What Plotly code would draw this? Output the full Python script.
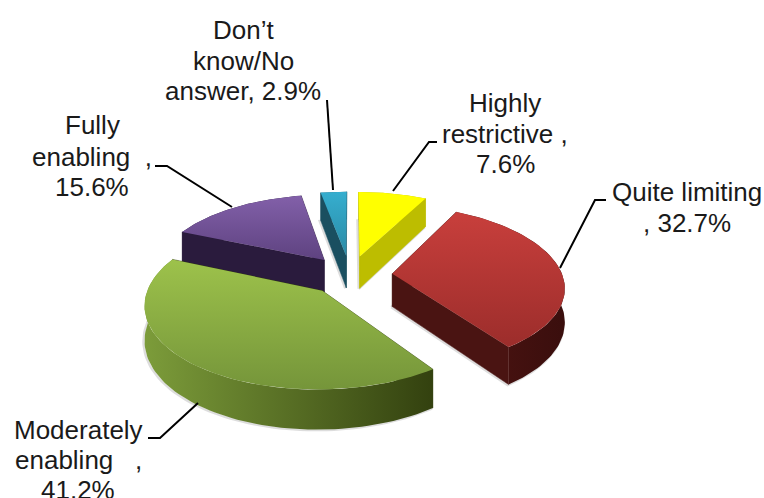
import numpy as np
import plotly.graph_objects as go

NBSP = "\u00a0"

# Survey shares, clockwise from twelve o'clock
categories = ["Highly restrictive", "Quite limiting", "Moderately enabling",
              "Fully enabling", "Don\u2019t know/No answer"]
shares = [7.6, 32.7, 41.2, 15.6, 2.9]

# Wrapped label text; {} takes the share
label_lines = [["Highly", "restrictive" + NBSP + ",", "{}%"],
               ["Quite limiting", ", {}%"],
               ["Moderately", "enabling" + NBSP * 3 + ",", "{}%"],
               ["Fully", "enabling" + NBSP * 2 + ",", "{}%"],
               ["Don\u2019t", "know/No", "answer, {}%"]]

# Face colours per slice
top_colors = [("#FFFF00", "#FFFF00"), ("#C83F3C", "#9C2D2B"), ("#9DC24B", "#75953A"),
              ("#8260A9", "#5E4280"), ("#36AECF", "#2A8AA5")]
cut_colors = ["#BDBD00", "#4A1412", "#33410F", "#2A1B3D", "#1A4F60"]
wall_colors = [("#BDBD00", "#BDBD00"), ("#4E1412", "#3A0E0D"), ("#7C9C3A", "#33410F"),
               ("#2A1B3D", "#2A1B3D"), ("#1A4F60", "#1A4F60")]

# Label placement: centre x and the centre y of each line
label_x = [505, 687, 78, 92, 243]
label_y = [[103, 134, 164], [192, 223], [430, 460, 490], [125, 157, 187], [30, 61, 91]]
leaders = [[(393, 191), (429, 142), (437, 142)],
           [(560, 268), (595, 200), (606, 200)],
           [(198, 403), (160, 438), (148, 438)],
           [(232, 207), (167, 166), (155, 166)],
           [(333, 190), (327, 100)]]

# Perspective view of the tilted disc
CX, CY = 350, 275
SX, SY, PERSP, DEPTH, EXPLODE = 170, 79, 0.148, 33, 0.25
# Slices are painted back to front
PAINT_ORDER = [4, 0, 3, 1, 2]


def project(wx, wy, lower):
    w = 1 + PERSP * wy
    sx = CX + SX * wx / w
    sy = CY + ((DEPTH if lower else 0) - SY * wy) / w
    return sx, sy


def polygon(trace_x, trace_y, color=None, gradient=None):
    kwargs = dict(x=np.append(trace_x, trace_x[0]), y=np.append(trace_y, trace_y[0]),
                  mode="lines", fill="toself", hoverinfo="skip", showlegend=False)
    if gradient:
        kwargs["fillgradient"] = gradient
        kwargs["line"] = dict(width=0)
    else:
        kwargs["fillcolor"] = color
        kwargs["line"] = dict(width=0.5, color=color)
    return go.Scatter(**kwargs)


fig = go.Figure()
edges = np.cumsum([0] + shares) / sum(shares) * 2 * np.pi

for i in PAINT_ORDER:
    a0, a1 = edges[i], edges[i + 1]
    mid = (a0 + a1) / 2
    tx, ty = EXPLODE * np.sin(mid), EXPLODE * np.cos(mid)
    ang = np.linspace(a0, a1, 80)
    ax, ay = tx + np.sin(ang), ty + np.cos(ang)

    # soft contact shadow along the underside
    ux = np.concatenate([[tx], ax])
    uy = np.concatenate([[ty], ay])
    bx, by = project(ux, uy, True)
    fig.add_trace(go.Scatter(x=np.append(bx, bx[0]) - 1, y=np.append(by, by[0]) + 0.5, mode="lines",
                             line=dict(width=2.5, color="rgba(120,120,120,0.25)"),
                             hoverinfo="skip", showlegend=False))

    faces = []
    for edge_a in (a0, a1):
        ex, ey = tx + np.sin(edge_a), ty + np.cos(edge_a)
        qx = np.array([tx, ex, ex, tx])
        qy = np.array([ty, ey, ey, ty])
        low = [False, False, True, True]
        px, py = zip(*[project(qx[k], qy[k], low[k]) for k in range(4)])
        faces.append(((ty + ey) / 2, np.array(px), np.array(py), "cut"))
    tx0, ty0 = project(ax, ay, False)
    tx1, ty1 = project(ax, ay, True)
    faces.append((ay.mean(), np.concatenate([tx0, tx1[::-1]]),
                  np.concatenate([ty0, ty1[::-1]]), "wall"))

    for _, px, py, kind in sorted(faces, key=lambda f: -f[0]):
        if kind == "cut":
            fig.add_trace(polygon(px, py, color=cut_colors[i]))
        else:
            c0, c1 = wall_colors[i]
            fig.add_trace(polygon(px, py, gradient=dict(
                type="horizontal", colorscale=[[0, c0], [1, c1]])))

    fx, fy = project(ux, uy, False)
    c0, c1 = top_colors[i]
    fig.add_trace(polygon(fx, fy, gradient=dict(
        type="vertical", colorscale=[[0, c1], [1, c0]])))

# Leader lines and data labels
for i in range(len(shares)):
    lx, ly = zip(*leaders[i])
    fig.add_trace(go.Scatter(x=lx, y=ly, mode="lines", line=dict(color="#000000", width=2),
                             hoverinfo="skip", showlegend=False))
    for line, y in zip(label_lines[i], label_y[i]):
        fig.add_annotation(x=label_x[i], y=y, xref="x", yref="y",
                           text=line.format(shares[i]), showarrow=False,
                           xanchor="center", yanchor="middle", name=categories[i],
                           font=dict(family="Liberation Sans, Arial, sans-serif", size=26,
                                     color="#1A1A1A"))

fig.update_layout(width=764, height=498, margin=dict(l=0, r=0, t=0, b=0),
                  paper_bgcolor="#FFFFFF", plot_bgcolor="#FFFFFF", showlegend=False,
                  xaxis=dict(visible=False, range=[0, 764], fixedrange=True),
                  yaxis=dict(visible=False, range=[498, 0], fixedrange=True))
fig.write_html("out.html", config=dict(displayModeBar=False))
